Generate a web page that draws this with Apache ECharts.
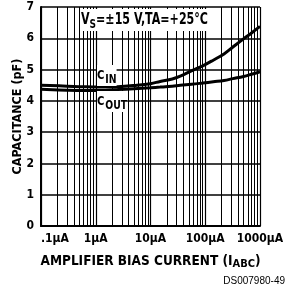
<!DOCTYPE html>
<html>
<head>
<meta charset="utf-8">
<script src="https://cdn.jsdelivr.net/npm/echarts@6/dist/echarts.min.js"></script>
<style>
  html, body { margin: 0; padding: 0; background: #fff; }
  #chart { width: 288px; height: 292px; }
</style>
</head>
<body>
<div id="chart"></div>
<script>
//  偏置电流 (µA)
const biasCurrent = [0.1, 0.3, 0.6, 1.2, 2.5, 5, 10, 15, 25, 35, 56, 90, 140, 220, 320, 500, 700, 1000];
//  输入电容 C_IN (pF)
const capIn = [4.50, 4.47, 4.45, 4.44, 4.45, 4.49, 4.55, 4.62, 4.70, 4.79, 4.96, 5.12, 5.30, 5.50, 5.72, 5.98, 6.17, 6.38];
//  输出电容 C_OUT (pF)
const capOut = [4.37, 4.34, 4.33, 4.33, 4.36, 4.39, 4.42, 4.44, 4.47, 4.50, 4.53, 4.57, 4.61, 4.65, 4.71, 4.78, 4.85, 4.93];
//  刻度标签
const xTickLabels = ['.1\u00b5A', '1\u00b5A', '10\u00b5A', '100\u00b5A', '1000\u00b5A'];
const yTicks = [0, 1, 2, 3, 4, 5, 6, 7];

const font = '"DejaVu Sans Condensed", "DejaVu Sans", sans-serif';

//  对数坐标的次网格线 (2..9 每个十倍程)
const minorLines = [];
[0.1, 1, 10, 100].forEach(function (d) {
    for (let k = 2; k <= 9; k++) {
        minorLines.push({xAxis: +(d * k).toPrecision(3)});
    }
});

const myChart = echarts.init(document.getElementById('chart'));
myChart.setOption({
    animation: false,
    grid: {left: 41, right: 28, top: 7, bottom: 66, outerBoundsMode: 'none', containLabel: false},
    xAxis: {
        type: 'log',
        logBase: 10,
        min: 0.1,
        max: 1000,
        name: 'AMPLIFIER BIAS CURRENT (I{s|ABC})',
        nameLocation: 'middle',
        nameMoveOverlap: false,
        nameGap: 26,
        nameTextStyle: {
            color: '#000', fontFamily: font, fontWeight: 'bold', fontSize: 13.5,
            rich: {s: {fontFamily: font, fontWeight: 'bold', fontSize: 11, verticalAlign: 'bottom', padding: [7, 0, 0, 0]}}
        },
        axisLine: {onZero: false, lineStyle: {color: '#000', width: 2}},
        axisTick: {show: false},
        axisLabel: {
            color: '#000', fontFamily: font, fontWeight: 'bold', fontSize: 12, margin: 7,
            alignMinLabel: 'left',
            formatter: function (v) {
                return xTickLabels[Math.round(Math.log10(v)) + 1] || '';
            }
        },
        splitLine: {show: true, lineStyle: {color: '#000', width: 1.2}}
    },
    yAxis: {
        type: 'value',
        min: 0,
        max: 7,
        interval: 1,
        name: 'CAPACITANCE (pF)',
        nameLocation: 'middle',
        nameMoveOverlap: false,
        nameGap: 17,
        nameTextStyle: {color: '#000', fontFamily: font, fontWeight: 'bold', fontSize: 12.5},
        axisLine: {show: true, lineStyle: {color: '#000', width: 2}},
        axisTick: {show: false},
        axisLabel: {
            color: '#000', fontFamily: font, fontWeight: 'bold', fontSize: 12, margin: 7,
            formatter: function (v) { return yTicks.indexOf(v) >= 0 ? String(v) : ''; }
        },
        splitLine: {show: true, lineStyle: {color: '#000', width: 1.5}}
    },
    series: [
        {
            name: 'C_IN',
            type: 'line',
            data: biasCurrent.map(function (x, i) { return [x, capIn[i]]; }),
            smooth: 0.4,
            symbol: 'none',
            lineStyle: {color: '#000', width: 3},
            markLine: {
                silent: true,
                symbol: 'none',
                label: {show: false},
                lineStyle: {color: '#000', width: 1, type: 'solid'},
                data: minorLines
            },
            z: 5
        },
        {
            name: 'C_OUT',
            type: 'line',
            data: biasCurrent.map(function (x, i) { return [x, capOut[i]]; }),
            smooth: 0.4,
            symbol: 'none',
            lineStyle: {color: '#000', width: 3},
            z: 5
        }
    ],
    graphic: [
        {
            type: 'text', left: 81, top: 9, z: 100, scaleX: 0.77,
            style: {
                text: 'V{s|S}=\u00b115 V,TA=+25\u00b0C',
                fill: '#000', font: 'bold 16px ' + font, backgroundColor: '#fff',
                rich: {s: {font: 'bold 13px ' + font, fill: '#000', padding: [9, 0, 0, 0]}}
            }
        },
        {
            type: 'text', left: 97, top: 65, z: 100, scaleX: 0.9,
            style: {
                text: 'C{s|IN}',
                fill: '#000', font: 'bold 12.5px ' + font, backgroundColor: '#fff',
                rich: {s: {font: 'bold 11.5px ' + font, fill: '#000', padding: [9, 0, 0, 1]}}
            }
        },
        {
            type: 'text', left: 97, top: 91, z: 100, scaleX: 0.9,
            style: {
                text: 'C{s|OUT}',
                fill: '#000', font: 'bold 12.5px ' + font, backgroundColor: '#fff',
                rich: {s: {font: 'bold 11.5px ' + font, fill: '#000', padding: [9, 0, 0, 1]}}
            }
        },
        {
            type: 'text', right: 3, top: 276, z: 100,
            style: {text: 'DS007980-49', fill: '#000', font: '10px "Liberation Sans", sans-serif'}
        }
    ]
});
</script>
</body>
</html>
